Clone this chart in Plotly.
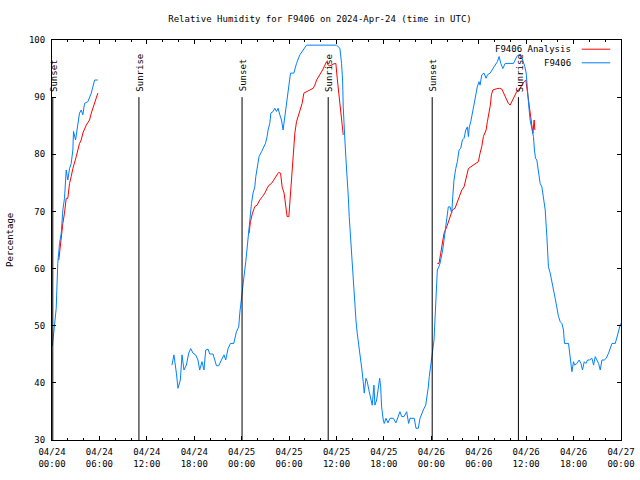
import plotly.graph_objects as go
from datetime import datetime, timedelta

START = datetime(2024, 4, 24, 0, 0)

# F9406 observations (hours after 04/24 00:00 UTC, relative humidity %); None = gap
obs_hours = [
    0.05, 0.32, 0.53, 0.61, 0.73, 0.95, 1.17, 1.37, 1.58, 1.80, 2.00, 2.22, 2.43, 2.64, 2.72,
    2.98, 3.27, 3.48, 3.70, 3.90, 4.12, 4.54, 4.97, 5.39, 5.80,
    None,
    15.18, 15.43, 15.74, 15.94, 16.24, 16.45, 16.70, 17.00, 17.30, 17.55, 17.84, 18.18, 18.47,
    18.69, 18.98, 19.23, 19.45, 19.74, 19.96, 20.37, 20.81, 21.10, 21.44, 21.77, 21.98, 22.28,
    22.58, 23.00, 23.34, 23.63, 23.76, 23.97, 24.10, 24.27, 24.39, 24.52, 24.68, 24.81, 25.03,
    25.24, 25.44, 25.66, 25.79, 25.95, 26.08, 26.20, 26.51, 26.71, 27.01, 27.22, 27.34, 27.56,
    27.69, 27.98, 28.19, 28.41, 28.61, 28.83, 29.04, 29.24, 29.46, 29.68, 29.88, 30.18, 30.60,
    30.94, 31.36, 31.78, 31.99, 32.21, 36.01, 36.43, 36.64, 36.77, 36.85, 36.97, 37.06, 37.19,
    37.35, 37.48, 37.61, 37.79, 37.91, 38.04, 38.20, 38.33, 38.46, 38.62, 38.75, 38.87, 39.05,
    39.22, 39.38, 39.51, 39.72, 39.89, 40.14, 40.36, 40.52, 40.74, 40.86, 41.08, 41.28, 41.46,
    41.59, 41.71, 41.92, 42.04, 42.26, 42.51, 42.77, 43.18, 43.52, 43.82, 44.03, 44.25, 44.54,
    44.88, 45.13, 45.30, 45.84, 46.06, 46.35, 46.57, 46.78, 46.98, 47.29, 47.49, 47.62, 47.74,
    47.92, 48.05, 48.18, 48.34, 48.47, 48.60, 48.68, 48.76, 48.94, 49.10, 49.44, 49.73, 49.95,
    50.15, 50.37, 50.58, 50.71, 50.87, 51.09, 51.29, 51.51, 51.72, 51.93, 52.14, 52.36, 52.56,
    52.69, 52.81, 52.99, 53.19, 53.41, 53.62, 53.83, 54.04, 54.17, 54.38, 54.67, 54.93, 55.09,
    55.44, 55.65, 56.07, 56.36, 56.58, 56.79, 57.05, 57.34, 58.39, 58.82, 59.02, 59.33, 59.58,
    59.83, 60.00, 60.16, 60.34, 60.50, 60.72, 60.92, 61.05, 61.18, 61.35, 61.56, 61.77, 61.99,
    62.19, 62.41, 62.62, 62.82, 63.04, 63.25, 63.46, 63.67, 63.89, 64.09, 64.31, 64.52, 64.72,
    64.85, 65.36, 65.48, 65.66, 65.79, 65.99, 66.12, 66.42, 66.71, 66.93, 67.13, 67.35, 67.56,
    67.77, 68.02, 68.32, 68.53, 68.74, 68.96, 69.16, 69.37, 69.59, 69.88, 70.13, 70.43, 70.64,
    70.86, 71.28, 71.49, 71.69, 71.95,
]
obs_rh = [
    46.5, 49.6, 53.0, 56.2, 60.9, 64.4, 66.2, 70.25, 72.3, 77.25, 75.5, 77.5, 78.4, 80.75, 84.0,
    82.5, 85.1, 87.2, 87.75, 86.9, 88.9, 89.2, 90.7, 93.0, 93.0,
    None,
    43.1, 44.9, 41.7, 39.05, 40.5, 44.9, 42.25, 43.1, 45.2, 46.0, 45.2, 44.9, 44.0,
    42.25, 43.7, 42.25, 45.75, 45.9, 45.05, 45.05, 43.0, 43.0, 44.0, 44.9, 44.0, 46.0,
    46.9, 46.9, 48.95, 49.8, 52.2, 55.1, 56.8, 58.3, 59.75, 61.2, 63.55, 66.2, 69.7,
    71.4, 73.2, 74.3, 76.1, 77.25, 78.4, 79.6, 80.45, 81.05, 81.9, 83.1, 84.25, 85.4,
    87.2, 87.5, 88.05, 87.5, 88.05, 86.9, 86.0, 84.25, 86.6, 89.5, 91.8, 94.2, 94.2,
    95.9, 97.4, 98.25, 98.55, 99.1, 99.1, 98.55, 95.9, 93.0, 88.3, 83.7, 82.5, 79.3,
    76.4, 72.9, 69.1, 65.0, 62.7, 61.2, 57.4, 54.5, 51.0, 48.7, 47.5, 46.3, 44.0,
    42.25, 40.2, 38.2, 40.8, 40.2, 38.45, 37.0, 36.1, 39.6, 36.1, 37.0, 39.3, 40.8,
    39.3, 35.8, 33.5, 32.9, 33.8, 33.0, 33.8, 33.8, 33.0, 34.1, 34.95, 34.1, 34.1,
    34.95, 32.9, 33.8, 33.8, 32.05, 32.05, 33.8, 34.65, 35.25, 36.1, 37.6, 39.3, 41.1,
    43.4, 44.6, 45.75, 47.5, 51.0, 53.3, 57.4, 59.75, 60.3, 60.9, 63.25, 66.75, 69.1,
    70.8, 70.8, 69.7, 72.6, 75.5, 77.5, 78.7, 80.75, 81.05, 82.5, 82.8, 84.25, 84.8,
    83.1, 84.8, 85.7, 87.2, 88.9, 90.7, 91.9, 92.7, 92.1, 93.9, 94.2, 93.3, 93.9,
    94.2, 94.75, 95.6, 96.2, 97.1, 95.9, 95.0, 95.9, 95.9, 97.1, 97.4, 97.4, 96.5,
    95.35, 94.2, 90.7, 88.3, 86.0, 84.25, 83.1, 80.75, 79.3, 79.0, 76.7, 74.9, 74.3,
    72.6, 70.25, 65.6, 60.3, 59.2, 57.4, 56.25, 54.8, 52.75, 51.6, 50.7, 50.4, 49.25,
    46.9, 46.9, 45.45, 44.0, 41.95, 43.7, 43.1, 43.4, 44.0, 43.4, 42.25, 43.7, 43.4,
    44.0, 44.0, 44.3, 43.1, 44.6, 44.0, 43.4, 42.25, 44.0, 44.0, 44.3, 45.2, 46.0,
    46.9, 46.9, 48.1, 49.0, 50.4,
]

# F9406 Analysis
ana_hours = [
    0.86, 0.95, 1.17, 1.37, 1.58, 1.80, 2.00, 2.22, 2.43, 2.64, 3.07, 3.48, 3.70, 3.90, 4.33,
    4.75, 4.97, 5.39, 5.80,
    None,
    24.94, 25.11, 25.37, 25.66, 25.95, 26.29, 26.63, 26.93, 27.22, 27.47, 27.78, 28.07, 28.41,
    28.66, 28.92, 29.12, 29.37, 29.59, 29.75, 29.97, 30.09, 30.31, 30.51, 30.73, 30.94, 31.15,
    31.36, 31.65, 31.87, 32.21, 32.63, 33.05, 33.26, 33.48, 33.77, 33.98, 34.24, 34.53, 34.74,
    34.95, 35.16, 35.58, 35.92, 36.09, 36.31, 36.52, 36.65, 36.77, 36.85,
    None,
    48.76, 48.97, 49.19, 49.39, 49.61, 49.95, 50.24, 50.46, 50.66, 51.00, 51.29, 51.55, 51.85,
    52.14, 52.40, 52.69, 52.99, 53.32, 53.75, 53.95, 54.17, 54.38, 54.59, 54.93, 55.09, 55.31,
    55.47, 55.60, 55.78, 56.20, 56.62, 56.92, 57.12, 57.46, 57.75, 57.97, 58.18, 58.48, 58.82,
    59.15, 59.45, 59.74, 59.96, 60.16, 60.29, 60.42, 60.59, 60.72, 60.85, 61.01, 61.10,
]
ana_rh = [
    61.5, 62.7, 64.4, 67.9, 69.7, 72.3, 72.3, 74.9, 76.1, 77.5, 79.6, 81.9, 82.5, 83.7, 85.1,
    86.0, 87.2, 88.9, 90.7,
    None,
    66.2, 68.2, 69.7, 70.85, 71.1, 72.0, 72.6, 73.2, 74.05, 74.6, 74.9, 75.5, 76.4,
    76.8, 76.7, 74.3, 73.2, 70.85, 69.1, 69.1, 71.4, 76.7, 80.75, 83.7, 85.7, 86.6,
    87.75, 88.9, 90.7, 91.0, 91.25, 91.55, 92.1, 93.0, 93.6, 94.2, 94.75, 95.6, 96.2,
    95.6, 95.45, 95.8, 95.9, 93.3, 90.7, 88.3, 86.6, 84.8, 83.4,
    None,
    60.9, 60.9, 62.7, 64.4, 66.2, 67.3, 68.5, 69.7, 70.25, 70.55, 71.7, 72.9, 73.75,
    74.3, 75.8, 77.5, 77.8, 78.1, 78.4, 78.7, 80.2, 81.35, 83.1, 84.25, 85.7, 87.2,
    88.6, 90.4, 91.25, 91.45, 91.55, 91.4, 90.8, 89.6, 88.9, 88.6, 89.2, 90.1, 91.0,
    91.4, 92.1, 92.7, 93.0, 90.7, 89.5, 88.3, 86.6, 84.8, 83.65, 86.0, 84.25,
]

event_hours = [0.10, 11.00, 24.05, 34.95, 48.11, 59.02]
event_labels = ["Sunset", "Sunrise", "Sunset", "Sunrise", "Sunset", "Sunrise"]

tick_hours = [0, 6, 12, 18, 24, 30, 36, 42, 48, 54, 60, 66, 72]
tick_labels = ["04/24<br>00:00", "04/24<br>06:00", "04/24<br>12:00", "04/24<br>18:00",
               "04/25<br>00:00", "04/25<br>06:00", "04/25<br>12:00", "04/25<br>18:00",
               "04/26<br>00:00", "04/26<br>06:00", "04/26<br>12:00", "04/26<br>18:00",
               "04/27<br>00:00"]
y_ticks = [30, 40, 50, 60, 70, 80, 90, 100]

series_names = ["F9406 Analysis", "F9406"]
series_colors = ["#ff0000", "#0080ff"]


def to_time(hours):
    return [None if h is None else START + timedelta(hours=h) for h in hours]


FONT = "DejaVu Sans Mono"
fig = go.Figure()
fig.add_trace(go.Scatter(x=to_time(ana_hours), y=ana_rh, mode="lines", name=series_names[0],
                         line=dict(color=series_colors[0], width=1), showlegend=False))
fig.add_trace(go.Scatter(x=to_time(obs_hours), y=obs_rh, mode="lines", name=series_names[1],
                         line=dict(color=series_colors[1], width=1), showlegend=False))

for h, lab in zip(to_time(event_hours), event_labels):
    fig.add_shape(type="line", xref="x", yref="y", x0=h, x1=h, y0=30, y1=90,
                  line=dict(color="black", width=1))
    fig.add_annotation(x=h, y=90.6, xref="x", yref="y", text=lab, textangle=-90,
                       showarrow=False, xanchor="center", yanchor="bottom", xshift=1,
                       font=dict(family=FONT, size=9, color="black"))

# manual gnuplot-style key
key_y = [0.977, 0.943]
for name, col, ky in zip(series_names, series_colors, key_y):
    fig.add_annotation(x=0.916, y=ky, xref="paper", yref="paper", text=name, showarrow=False,
                       xanchor="right", yanchor="middle",
                       font=dict(family=FONT, size=9, color="black"))
    fig.add_shape(type="line", xref="paper", yref="paper", x0=0.931, x1=0.981, y0=ky, y1=ky,
                  line=dict(color=col, width=1))

fig.add_annotation(x=-0.074, y=0.5, xref="paper", yref="paper", text="Percentage",
                   textangle=-90, showarrow=False, xanchor="center", yanchor="middle",
                   font=dict(family=FONT, size=9, color="black"))

fig.update_layout(
    width=640, height=480,
    margin=dict(l=52, r=19, t=40, b=40, autoexpand=False),
    paper_bgcolor="white", plot_bgcolor="white",
    title=dict(text="Relative Humidity for F9406 on 2024-Apr-24 (time in UTC)",
               x=0.5, xref="container", xanchor="center",
               y=1 - 19 / 480, yref="container", yanchor="middle",
               font=dict(family=FONT, size=9, color="black")),
    font=dict(family=FONT, size=9, color="black"),
    showlegend=False,
)
fig.update_xaxes(
    range=[START, START + timedelta(hours=72)],
    tickvals=to_time(tick_hours), ticktext=tick_labels,
    ticks="inside", ticklen=4, tickcolor="black", tickwidth=1,
    minor=dict(dtick=2 * 3600 * 1000, ticks="inside", ticklen=2, tickcolor="black", showgrid=False),
    showline=True, linecolor="black", linewidth=1, mirror="ticks",
    showgrid=False, zeroline=False, ticklabelstandoff=3, automargin=False,
    tickfont=dict(family=FONT, size=9, color="black"),
)
fig.update_yaxes(
    range=[30, 100], tickvals=y_ticks,
    ticks="inside", ticklen=4, tickcolor="black", tickwidth=1,
    showline=True, linecolor="black", linewidth=1, mirror="ticks",
    showgrid=False, zeroline=False, ticklabelstandoff=4, automargin=False,
    tickfont=dict(family=FONT, size=9, color="black"),
)

fig.write_html(
    "out.html",
    config={"displayModeBar": False},
    post_script="document.body.style.margin='0';document.body.style.overflow='hidden';",
)
